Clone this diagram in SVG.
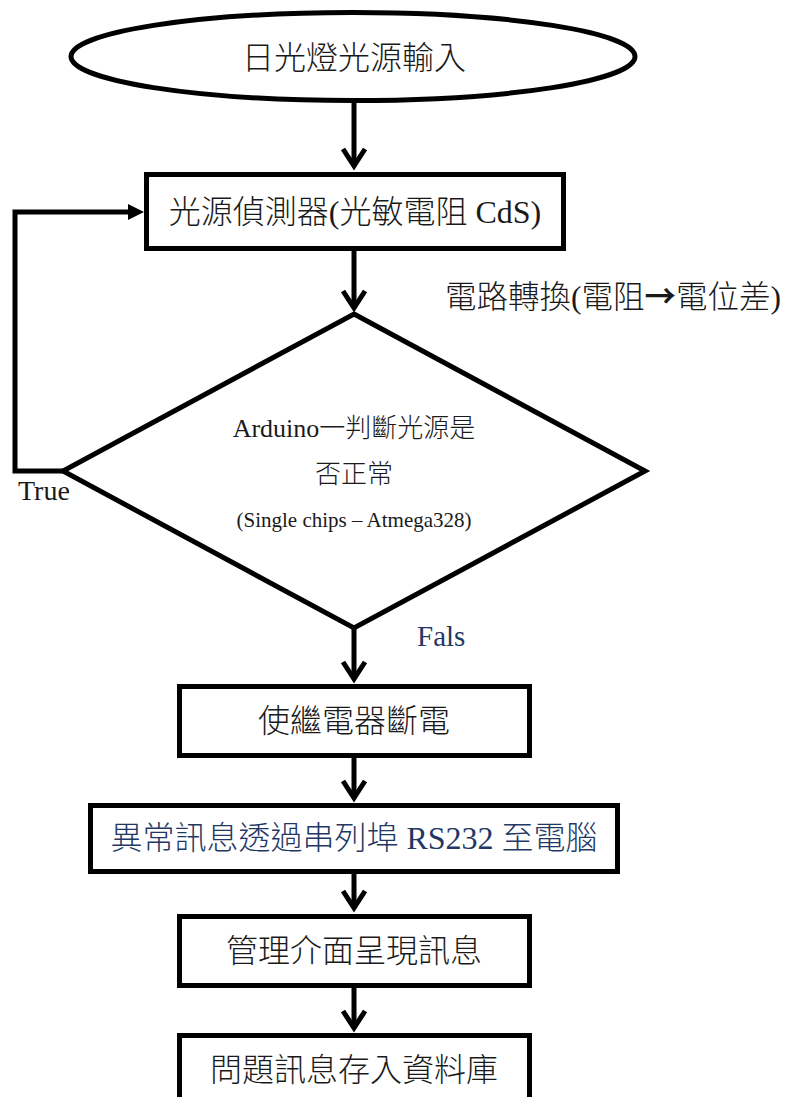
<svg xmlns="http://www.w3.org/2000/svg" width="792" height="1097" viewBox="0 0 792 1097">
<defs>
<style>
.shape{fill:#fff;stroke:#000;stroke-width:5}
.conn{fill:none;stroke:#000;stroke-width:5}
.t{font-family:"Noto Sans CJK TC","Liberation Serif",sans-serif;font-weight:300;fill:#1a1a1a;text-anchor:middle}
.lat{font-family:"Liberation Serif",serif;font-weight:400}
.big{font-size:32px}
.mid{font-size:26px}
.small{font-size:21px}
.blue{fill:#1F3864}
</style>
<marker id="chev" markerUnits="userSpaceOnUse" orient="auto" refX="0" refY="0" markerWidth="40" markerHeight="40" viewBox="-30 -20 40 40" overflow="visible">
<path d="M -17 -11 L 0 0 L -17 11" fill="none" stroke="#000" stroke-width="5"/>
</marker>
<marker id="tri" markerUnits="userSpaceOnUse" orient="auto" refX="0" refY="0" markerWidth="40" markerHeight="40" viewBox="-20 -20 40 40" overflow="visible">
<path d="M 12 0 L -4 -8 L -4 8 Z" fill="#000"/>
</marker>
</defs>
<rect width="792" height="1097" fill="#fff"/>

<g id="connectors">
<path class="conn" d="M354 101 L354 166" marker-end="url(#chev)"/>
<path class="conn" d="M354 251 L354 308" marker-end="url(#chev)"/>
<path class="conn" d="M63 471 L15 471 L15 212 L132 212" marker-end="url(#tri)"/>
<path class="conn" d="M354 628 L354 679" marker-end="url(#chev)"/>
<path class="conn" d="M354 758 L354 798" marker-end="url(#chev)"/>
<path class="conn" d="M354 874 L354 908" marker-end="url(#chev)"/>
<path class="conn" d="M354 988 L354 1028" marker-end="url(#chev)"/>
</g>

<g id="start">
<ellipse class="shape" cx="353" cy="56.5" rx="282" ry="44"/>
<text class="t big" x="354" y="69">日光燈光源輸入</text>
</g>

<g id="sensor">
<rect class="shape" x="146.5" y="174.5" width="417" height="74"/>
<text class="t big" x="355" y="223">光源偵測器<tspan class="lat">(</tspan>光敏電阻<tspan class="lat"> CdS)</tspan></text>
</g>

<g id="conversion-label">
<text class="t" x="445" y="308" style="font-size:31.5px;text-anchor:start">電路轉換<tspan class="lat">(</tspan>電阻<tspan style="font-weight:700">→</tspan>電位差<tspan class="lat">)</tspan></text>
</g>

<g id="decision">
<polygon class="shape" points="354,314 645,471 354,628 63,471"/>
<text class="t mid" x="354" y="437"><tspan class="lat">Arduino</tspan>一判斷光源是</text>
<text class="t mid" x="354" y="483">否正常</text>
<text class="t small lat" x="354" y="527">(Single chips – Atmega328)</text>
</g>

<g id="true-label">
<text class="t lat" x="18" y="500" style="font-size:28px;text-anchor:start">True</text>
</g>

<g id="false-label">
<text class="t lat blue" x="417" y="646" style="font-size:29px;text-anchor:start">Fals</text>
</g>

<g id="relay">
<rect class="shape" x="179.5" y="686.5" width="350" height="69"/>
<text class="t big" x="354" y="732">使繼電器斷電</text>
</g>

<g id="serial">
<rect class="shape" x="90.5" y="805.5" width="527" height="66"/>
<text class="t big blue" x="354" y="849">異常訊息透過串列埠<tspan class="lat"> RS232 </tspan>至電腦</text>
</g>

<g id="ui">
<rect class="shape" x="179.5" y="916.5" width="350" height="69"/>
<text class="t big" x="354" y="962">管理介面呈現訊息</text>
</g>

<g id="database">
<rect class="shape" x="179.5" y="1035.5" width="350" height="80"/>
<text class="t big" x="354" y="1081">問題訊息存入資料庫</text>
</g>
</svg>
